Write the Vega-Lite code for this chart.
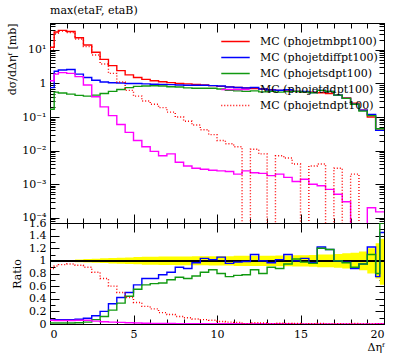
{
  "$schema": "https://vega.github.io/schema/vega-lite/v6.json",
  "padding": {"left": 6, "top": 4, "right": 8, "bottom": 2},
  "spacing": 0,
  "bounds": "flush",
  "config": {
    "font": "DejaVu Serif",
    "view": {"stroke": "black", "strokeWidth": 1},
    "axis": {"minExtent": 0, "labelFont": "DejaVu Serif", "labelFontSize": 11, "titleFont": "DejaVu Serif", "titleFontSize": 11, "titleFontWeight": "normal", "domainColor": "black", "tickColor": "black", "labelColor": "black", "titleColor": "black", "grid": false},
    "legend": {"labelFont": "DejaVu Serif"},
    "title": {"font": "DejaVu Serif"}
  },
  "datasets": {
    "top": [
      {"x": 0, "mb": 12, "diff": 0.75, "sd": 0.17, "dd": 1.2, "nd": 10.5},
      {"x": 0.25, "mb": 34, "diff": 2.3, "sd": 0.55, "dd": 1.9, "nd": 31},
      {"x": 0.5, "mb": 38, "diff": 2.5, "sd": 0.52, "dd": 2.1, "nd": 36},
      {"x": 1, "mb": 35, "diff": 2.6, "sd": 0.48, "dd": 2.0, "nd": 33},
      {"x": 1.5, "mb": 23, "diff": 1.9, "sd": 0.44, "dd": 1.6, "nd": 21},
      {"x": 2, "mb": 14, "diff": 1.5, "sd": 0.42, "dd": 0.9, "nd": 12.5},
      {"x": 2.5, "mb": 8.5, "diff": 1.25, "sd": 0.45, "dd": 0.4, "nd": 7},
      {"x": 3, "mb": 5.2, "diff": 1.1, "sd": 0.5, "dd": 0.2, "nd": 3.8},
      {"x": 3.5, "mb": 3.4, "diff": 1.05, "sd": 0.58, "dd": 0.11, "nd": 2.0},
      {"x": 4, "mb": 2.4, "diff": 1.03, "sd": 0.66, "dd": 0.06, "nd": 1.1},
      {"x": 4.5, "mb": 1.8, "diff": 1.0, "sd": 0.75, "dd": 0.035, "nd": 0.62},
      {"x": 5, "mb": 1.5, "diff": 1.0, "sd": 0.82, "dd": 0.02, "nd": 0.42},
      {"x": 5.5, "mb": 1.32, "diff": 0.97, "sd": 0.84, "dd": 0.013, "nd": 0.3},
      {"x": 6, "mb": 1.2, "diff": 0.95, "sd": 0.85, "dd": 0.0095, "nd": 0.24},
      {"x": 6.5, "mb": 1.12, "diff": 0.93, "sd": 0.84, "dd": 0.007, "nd": 0.19},
      {"x": 7, "mb": 1.06, "diff": 0.92, "sd": 0.8, "dd": 0.008, "nd": 0.14},
      {"x": 7.5, "mb": 1.0, "diff": 0.9, "sd": 0.78, "dd": 0.0045, "nd": 0.1},
      {"x": 8, "mb": 0.97, "diff": 0.88, "sd": 0.74, "dd": 0.0035, "nd": 0.075},
      {"x": 8.5, "mb": 0.93, "diff": 0.88, "sd": 0.72, "dd": 0.003, "nd": 0.058},
      {"x": 9, "mb": 0.9, "diff": 0.88, "sd": 0.72, "dd": 0.0028, "nd": 0.042},
      {"x": 9.5, "mb": 0.86, "diff": 0.86, "sd": 0.72, "dd": 0.0026, "nd": 0.03},
      {"x": 10, "mb": 0.82, "diff": 0.84, "sd": 0.68, "dd": 0.0025, "nd": 0.02},
      {"x": 10.5, "mb": 0.79, "diff": 0.78, "sd": 0.62, "dd": 0.0024, "nd": 0.016},
      {"x": 11, "mb": 0.76, "diff": 0.76, "sd": 0.6, "dd": 0.002, "nd": 0.013},
      {"x": 11.5, "mb": 0.73, "diff": 0.73, "sd": 0.58, "dd": 0.0025, "nd": 0.000065},
      {"x": 12, "mb": 0.7, "diff": 0.76, "sd": 0.6, "dd": 0.0022, "nd": 0.011},
      {"x": 12.5, "mb": 0.68, "diff": 0.68, "sd": 0.56, "dd": 0.0021, "nd": 0.008},
      {"x": 13, "mb": 0.65, "diff": 0.64, "sd": 0.58, "dd": 0.0018, "nd": 0.000065},
      {"x": 13.5, "mb": 0.62, "diff": 0.63, "sd": 0.55, "dd": 0.002, "nd": 0.007},
      {"x": 14, "mb": 0.6, "diff": 0.65, "sd": 0.57, "dd": 0.0016, "nd": 0.006},
      {"x": 14.5, "mb": 0.58, "diff": 0.58, "sd": 0.58, "dd": 0.0012, "nd": 0.004},
      {"x": 15, "mb": 0.56, "diff": 0.58, "sd": 0.55, "dd": 0.0014, "nd": 0.000065},
      {"x": 15.5, "mb": 0.55, "diff": 0.54, "sd": 0.53, "dd": 0.001, "nd": 0.0035},
      {"x": 16, "mb": 0.53, "diff": 0.62, "sd": 0.62, "dd": 0.0009, "nd": 0.004},
      {"x": 16.5, "mb": 0.5, "diff": 0.58, "sd": 0.58, "dd": 0.0007, "nd": 0.000065},
      {"x": 17, "mb": 0.45, "diff": 0.45, "sd": 0.45, "dd": 0.0005, "nd": 0.003},
      {"x": 17.5, "mb": 0.37, "diff": 0.36, "sd": 0.36, "dd": 0.0003, "nd": 0.000065},
      {"x": 18, "mb": 0.26, "diff": 0.24, "sd": 0.24, "dd": 0.000065, "nd": 0.002},
      {"x": 18.5, "mb": 0.16, "diff": 0.16, "sd": 0.15, "dd": 0.000065, "nd": 0.000065},
      {"x": 19, "mb": 0.1, "diff": 0.12, "sd": 0.11, "dd": 0.0002, "nd": 0.000065},
      {"x": 19.5, "mb": 0.045, "diff": 0.04, "sd": 0.045, "dd": 0.00015, "nd": 0.000065},
      {"x": 20, "mb": 0.045, "diff": 0.04, "sd": 0.045, "dd": 0.00015, "nd": 0.000065}
    ],
    "ratio": [
      {"x": 0, "diff": 0.063, "sd": 0.015, "dd": 0.06, "nd": 0.88, "lo": 0.99, "hi": 1.01},
      {"x": 0.25, "diff": 0.068, "sd": 0.016, "dd": 0.056, "nd": 0.92, "lo": 0.99, "hi": 1.01},
      {"x": 0.5, "diff": 0.068, "sd": 0.015, "dd": 0.055, "nd": 0.94, "lo": 0.988, "hi": 1.012},
      {"x": 1, "diff": 0.07, "sd": 0.015, "dd": 0.055, "nd": 0.95, "lo": 0.985, "hi": 1.015},
      {"x": 1.5, "diff": 0.075, "sd": 0.02, "dd": 0.06, "nd": 0.93, "lo": 0.98, "hi": 1.02},
      {"x": 2, "diff": 0.09, "sd": 0.03, "dd": 0.06, "nd": 0.9, "lo": 0.975, "hi": 1.03},
      {"x": 2.5, "diff": 0.13, "sd": 0.07, "dd": 0.045, "nd": 0.82, "lo": 0.97, "hi": 1.035},
      {"x": 3, "diff": 0.2, "sd": 0.12, "dd": 0.035, "nd": 0.72, "lo": 0.965, "hi": 1.04},
      {"x": 3.5, "diff": 0.32, "sd": 0.22, "dd": 0.03, "nd": 0.6, "lo": 0.96, "hi": 1.045},
      {"x": 4, "diff": 0.42, "sd": 0.33, "dd": 0.025, "nd": 0.5, "lo": 0.955, "hi": 1.05},
      {"x": 4.5, "diff": 0.5, "sd": 0.44, "dd": 0.02, "nd": 0.42, "lo": 0.95, "hi": 1.055},
      {"x": 5, "diff": 0.62, "sd": 0.55, "dd": 0.015, "nd": 0.34, "lo": 0.945, "hi": 1.06},
      {"x": 5.5, "diff": 0.72, "sd": 0.62, "dd": 0.012, "nd": 0.28, "lo": 0.94, "hi": 1.065},
      {"x": 6, "diff": 0.72, "sd": 0.64, "dd": 0.01, "nd": 0.24, "lo": 0.94, "hi": 1.065},
      {"x": 6.5, "diff": 0.78, "sd": 0.65, "dd": 0.008, "nd": 0.18, "lo": 0.935, "hi": 1.07},
      {"x": 7, "diff": 0.82, "sd": 0.7, "dd": 0.007, "nd": 0.15, "lo": 0.935, "hi": 1.07},
      {"x": 7.5, "diff": 0.9, "sd": 0.74, "dd": 0.006, "nd": 0.12, "lo": 0.93, "hi": 1.07},
      {"x": 8, "diff": 0.88, "sd": 0.72, "dd": 0.005, "nd": 0.1, "lo": 0.93, "hi": 1.07},
      {"x": 8.5, "diff": 0.97, "sd": 0.76, "dd": 0.005, "nd": 0.08, "lo": 0.93, "hi": 1.075},
      {"x": 9, "diff": 1.04, "sd": 0.82, "dd": 0.004, "nd": 0.07, "lo": 0.93, "hi": 1.075},
      {"x": 9.5, "diff": 1.02, "sd": 0.86, "dd": 0.004, "nd": 0.06, "lo": 0.925, "hi": 1.075},
      {"x": 10, "diff": 1.06, "sd": 0.8, "dd": 0.004, "nd": 0.04, "lo": 0.925, "hi": 1.075},
      {"x": 10.5, "diff": 0.96, "sd": 0.75, "dd": 0.003, "nd": 0.03, "lo": 0.925, "hi": 1.075},
      {"x": 11, "diff": 0.98, "sd": 0.77, "dd": 0.003, "nd": 0.025, "lo": 0.92, "hi": 1.08},
      {"x": 11.5, "diff": 0.99, "sd": 0.78, "dd": 0.003, "nd": 0, "lo": 0.92, "hi": 1.08},
      {"x": 12, "diff": 1.1, "sd": 0.86, "dd": 0.003, "nd": 0.02, "lo": 0.92, "hi": 1.08},
      {"x": 12.5, "diff": 1.0, "sd": 0.8, "dd": 0.003, "nd": 0.015, "lo": 0.92, "hi": 1.08},
      {"x": 13, "diff": 0.97, "sd": 0.9, "dd": 0.003, "nd": 0, "lo": 0.92, "hi": 1.08},
      {"x": 13.5, "diff": 1.02, "sd": 0.88, "dd": 0.003, "nd": 0.012, "lo": 0.915, "hi": 1.085},
      {"x": 14, "diff": 1.1, "sd": 0.95, "dd": 0.003, "nd": 0.01, "lo": 0.915, "hi": 1.085},
      {"x": 14.5, "diff": 1.0, "sd": 1.03, "dd": 0.002, "nd": 0.008, "lo": 0.91, "hi": 1.09},
      {"x": 15, "diff": 1.04, "sd": 0.98, "dd": 0.002, "nd": 0, "lo": 0.91, "hi": 1.09},
      {"x": 15.5, "diff": 0.97, "sd": 0.96, "dd": 0.002, "nd": 0.006, "lo": 0.905, "hi": 1.095},
      {"x": 16, "diff": 1.22, "sd": 1.2, "dd": 0.002, "nd": 0.008, "lo": 0.9, "hi": 1.1},
      {"x": 16.5, "diff": 1.18, "sd": 1.18, "dd": 0.001, "nd": 0, "lo": 0.9, "hi": 1.1},
      {"x": 17, "diff": 1.0, "sd": 1.0, "dd": 0.001, "nd": 0.006, "lo": 0.89, "hi": 1.11},
      {"x": 17.5, "diff": 0.98, "sd": 0.97, "dd": 0.001, "nd": 0, "lo": 0.88, "hi": 1.12},
      {"x": 18, "diff": 0.88, "sd": 0.9, "dd": 0, "nd": 0.008, "lo": 0.87, "hi": 1.13},
      {"x": 18.5, "diff": 0.95, "sd": 0.95, "dd": 0, "nd": 0, "lo": 0.85, "hi": 1.15},
      {"x": 19, "diff": 1.22, "sd": 1.1, "dd": 0.002, "nd": 0, "lo": 0.8, "hi": 1.2},
      {"x": 19.5, "diff": 0.75, "sd": 0.8, "dd": 0.003, "nd": 0, "lo": 0.72, "hi": 1.28},
      {"x": 19.75, "diff": 1.45, "sd": 1.6, "dd": 0.003, "nd": 0, "lo": 0.62, "hi": 1.35},
      {"x": 20, "diff": 1.45, "sd": 1.6, "dd": 0.003, "nd": 0, "lo": 0.62, "hi": 1.35}
    ]
  },
  "resolve": {"scale": {"color": "independent", "strokeDash": "independent"}},
  "vconcat": [
    {
      "width": 334,
      "height": 200,
      "title": {"text": "max(etaF, etaB)", "anchor": "start", "frame": "group", "fontSize": 11, "fontWeight": "normal", "offset": 7},
      "data": {"name": "top"},
      "transform": [{"fold": ["mb", "diff", "sd", "dd", "nd"], "as": ["s", "v"]}],
      "layer": [
        {
          "mark": {"type": "line", "interpolate": "step-after", "strokeWidth": 1.4, "clip": true},
          "encoding": {
            "x": {"field": "x", "type": "quantitative", "scale": {"domain": [0, 20], "nice": false},
              "axis": {"orient": "bottom", "title": null, "labels": false, "values": [0,1,2,3,4,5,6,7,8,9,10,11,12,13,14,15,16,17,18,19,20],
                "tickSize": {"condition": {"test": "datum.value % 5 === 0", "value": -9}, "value": -5}}},
            "y": {"field": "v", "type": "quantitative", "scale": {"type": "log", "domain": [0.00007, 63], "nice": false},
              "axis": {"orient": "left", "title": "dσ/dΔηᶠ [mb]", "titleAnchor": "end", "titlePadding": 4,
                "values": [0.00008,0.00009,0.0001,0.0002,0.0003,0.0004,0.0005,0.0006,0.0007,0.0008,0.0009,0.001,0.002,0.003,0.004,0.005,0.006,0.007,0.008,0.009,0.01,0.02,0.03,0.04,0.05,0.06,0.07,0.08,0.09,0.1,0.2,0.3,0.4,0.5,0.6,0.7,0.8,0.9,1,2,3,4,5,6,7,8,9,10,20,30,40,50,60],
                "labelExpr": "datum.value == 10 ? '10¹' : datum.value == 1 ? '1' : datum.value == 0.1 ? '10⁻¹' : datum.value == 0.01 ? '10⁻²' : datum.value == 0.001 ? '10⁻³' : datum.value == 0.0001 ? '10⁻⁴' : ''",
                "labelPadding": 13,
                "tickSize": {"condition": {"test": "abs(log(datum.value)/LN10 - round(log(datum.value)/LN10)) < 0.001", "value": -9}, "value": -5}}},
            "color": {"field": "s", "type": "nominal",
              "scale": {"domain": ["mb", "diff", "sd", "dd", "nd"], "range": ["#ff0000", "#0000ff", "#119911", "#ff00ff", "#ff0000"]},
              "legend": {"orient": "none", "legendX": 180, "legendY": 13, "title": null, "symbolType": "M-3,0H3", "symbolSize": 90, "symbolStrokeWidth": 1.5, "labelFontSize": 11, "rowPadding": 4, "labelOffset": 19,
                "labelExpr": "datum.value == 'mb' ? 'MC (phojetmbpt100)' : datum.value == 'diff' ? 'MC (phojetdiffpt100)' : datum.value == 'sd' ? 'MC (phojetsdpt100)' : datum.value == 'dd' ? 'MC (phojetddpt100)' : 'MC (phojetndpt100)'"}},
            "strokeDash": {"field": "s", "type": "nominal",
              "scale": {"domain": ["mb", "diff", "sd", "dd", "nd"], "range": [[1, 0], [1, 0], [1, 0], [1, 0], [1, 2]]},
              "legend": {"orient": "none", "legendX": 180, "legendY": 13, "title": null, "symbolType": "M-3,0H3", "symbolSize": 90, "symbolStrokeWidth": 1.5, "labelFontSize": 11, "rowPadding": 4, "labelOffset": 19,
                "labelExpr": "datum.value == 'mb' ? 'MC (phojetmbpt100)' : datum.value == 'diff' ? 'MC (phojetdiffpt100)' : datum.value == 'sd' ? 'MC (phojetsdpt100)' : datum.value == 'dd' ? 'MC (phojetddpt100)' : 'MC (phojetndpt100)'"}}
          }
        },
        {
          "mark": {"type": "line", "opacity": 0},
          "encoding": {
            "x": {"field": "x", "type": "quantitative",
              "axis": {"orient": "top", "title": null, "labels": false, "values": [0,1,2,3,4,5,6,7,8,9,10,11,12,13,14,15,16,17,18,19,20],
                "tickSize": {"condition": {"test": "datum.value % 5 === 0", "value": -9}, "value": -5}}},
            "y": {"field": "v", "type": "quantitative",
              "axis": {"orient": "right", "title": null, "labels": false,
                "values": [0.00008,0.00009,0.0001,0.0002,0.0003,0.0004,0.0005,0.0006,0.0007,0.0008,0.0009,0.001,0.002,0.003,0.004,0.005,0.006,0.007,0.008,0.009,0.01,0.02,0.03,0.04,0.05,0.06,0.07,0.08,0.09,0.1,0.2,0.3,0.4,0.5,0.6,0.7,0.8,0.9,1,2,3,4,5,6,7,8,9,10,20,30,40,50,60],
                "tickSize": {"condition": {"test": "abs(log(datum.value)/LN10 - round(log(datum.value)/LN10)) < 0.001", "value": -9}, "value": -5}}}
          }
        }
      ],
      "resolve": {"axis": {"x": "independent", "y": "independent"}}
    },
    {
      "width": 334,
      "height": 101,
      "data": {"name": "ratio"},
      "layer": [
        {
          "mark": {"type": "area", "interpolate": "step-after", "color": "#ffff00", "opacity": 1, "clip": true},
          "encoding": {
            "x": {"field": "x", "type": "quantitative", "scale": {"domain": [0, 20], "nice": false},
              "axis": {"orient": "bottom", "title": "Δηᶠ", "titleAnchor": "end", "titlePadding": 2, "values": [0,1,2,3,4,5,6,7,8,9,10,11,12,13,14,15,16,17,18,19,20],
                "labelExpr": "datum.value % 5 === 0 ? datum.label : ''", "labelPadding": 13,
                "tickSize": {"condition": {"test": "datum.value % 5 === 0", "value": -9}, "value": -5}}},
            "y": {"field": "lo", "type": "quantitative", "scale": {"domain": [0, 1.6], "nice": false, "zero": false},
              "axis": {"orient": "left", "title": "Ratio", "titlePadding": 6, "labelOverlap": false,
                "values": [0,0.1,0.2,0.3,0.4,0.5,0.6,0.7,0.8,0.9,1,1.1,1.2,1.3,1.4,1.5,1.6],
                "labelExpr": "abs(datum.value*5 - round(datum.value*5)) < 0.001 ? format(datum.value, '.1~f') : ''",
                "labelPadding": 13,
                "tickSize": {"condition": {"test": "abs(datum.value*5 - round(datum.value*5)) < 0.001", "value": -9}, "value": -5}}},
            "y2": {"field": "hi"}
          }
        },
        {
          "mark": {"type": "rule", "color": "black", "strokeWidth": 1},
          "encoding": {"y": {"datum": 1, "type": "quantitative", "axis": null}}
        },
        {
          "transform": [{"fold": ["diff", "sd", "dd", "nd"], "as": ["s", "v"]}],
          "mark": {"type": "line", "interpolate": "step-after", "strokeWidth": 1.4, "clip": true},
          "encoding": {
            "x": {"field": "x", "type": "quantitative", "axis": null},
            "y": {"field": "v", "type": "quantitative", "axis": null},
            "color": {"field": "s", "type": "nominal", "legend": null,
              "scale": {"domain": ["diff", "sd", "dd", "nd"], "range": ["#0000ff", "#119911", "#ff00ff", "#ff0000"]}},
            "strokeDash": {"field": "s", "type": "nominal", "legend": null,
              "scale": {"domain": ["diff", "sd", "dd", "nd"], "range": [[1, 0], [1, 0], [1, 0], [1, 2]]}}
          }
        },
        {
          "mark": {"type": "line", "opacity": 0},
          "encoding": {
            "x": {"field": "x", "type": "quantitative",
              "axis": {"orient": "top", "title": null, "labels": false, "values": [0,1,2,3,4,5,6,7,8,9,10,11,12,13,14,15,16,17,18,19,20],
                "tickSize": {"condition": {"test": "datum.value % 5 === 0", "value": -9}, "value": -5}}},
            "y": {"field": "lo", "type": "quantitative",
              "axis": {"orient": "right", "title": null, "labels": false,
                "values": [0,0.1,0.2,0.3,0.4,0.5,0.6,0.7,0.8,0.9,1,1.1,1.2,1.3,1.4,1.5,1.6],
                "tickSize": {"condition": {"test": "abs(datum.value*5 - round(datum.value*5)) < 0.001", "value": -9}, "value": -5}}}
          }
        }
      ],
      "resolve": {"axis": {"x": "independent", "y": "independent"}}
    }
  ]
}
